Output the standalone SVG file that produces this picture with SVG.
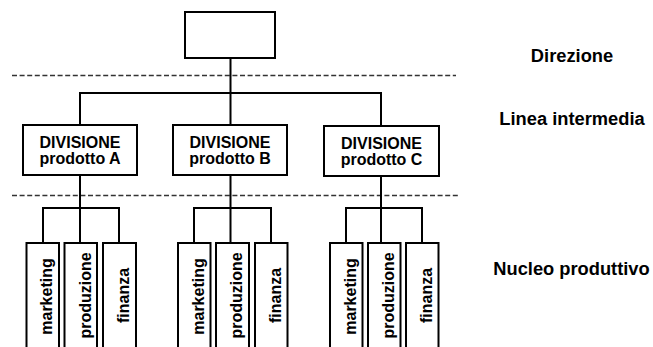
<svg xmlns="http://www.w3.org/2000/svg" width="653" height="347" viewBox="0 0 653 347">
  <style>
    .box { fill: #fff; stroke: #000; stroke-width: 2; }
    .link { fill: none; stroke: #000; stroke-width: 2; }
    .sep { fill: none; stroke: #333; stroke-width: 1.3; stroke-dasharray: 5 2.6; }
    .lbl { font-family: "Liberation Sans", Arial, sans-serif; font-weight: bold; font-size: 16px; fill: #000; text-anchor: middle; }
    .lvl { font-family: "Liberation Sans", Arial, sans-serif; font-weight: bold; font-size: 18.3px; fill: #000; text-anchor: middle; }
  </style>
  <rect width="653" height="347" fill="#fff"/>

  <!-- level separators -->
  <g id="separators">
    <line class="sep" x1="12" y1="75.5" x2="456" y2="75.5"/>
    <line class="sep" x1="12" y1="195.5" x2="460" y2="195.5"/>
  </g>

  <!-- connectors -->
  <g id="connectors">
    <path class="link" d="M230.5 58 V125 M80 125 V93 H381 V126"/>
    <path class="link" d="M80 175 V243 M43 243 V208 H119 V243"/>
    <path class="link" d="M230.5 175 V243 M194 243 V208 H271 V243"/>
    <path class="link" d="M381 176 V243 M346 243 V208 H422 V243"/>
  </g>

  <!-- top management -->
  <g id="direzione-box">
    <rect class="box" x="185" y="12" width="90" height="46"/>
  </g>

  <!-- divisions -->
  <g id="div-a">
    <rect class="box" x="23" y="125" width="114" height="50"/>
    <text class="lbl" x="80" y="148">DIVISIONE</text>
    <text class="lbl" x="80" y="164">prodotto A</text>
  </g>
  <g id="div-b">
    <rect class="box" x="173" y="125" width="114" height="50"/>
    <text class="lbl" x="230" y="148">DIVISIONE</text>
    <text class="lbl" x="230" y="164">prodotto B</text>
  </g>
  <g id="div-c">
    <rect class="box" x="324" y="126" width="115" height="50"/>
    <text class="lbl" x="381.5" y="149">DIVISIONE</text>
    <text class="lbl" x="381.5" y="165">prodotto C</text>
  </g>

  <!-- functional units, division A -->
  <g id="a-marketing">
    <rect class="box" x="26.5" y="243" width="32.5" height="120"/>
    <text class="lbl" transform="translate(52 296.5) rotate(-90)">marketing</text>
  </g>
  <g id="a-produzione">
    <rect class="box" x="64.5" y="243" width="32.5" height="120"/>
    <text class="lbl" transform="translate(90.5 295.5) rotate(-90)">produzione</text>
  </g>
  <g id="a-finanza">
    <rect class="box" x="103" y="243" width="33" height="120"/>
    <text class="lbl" transform="translate(128.5 295.5) rotate(-90)">finanza</text>
  </g>

  <!-- functional units, division B -->
  <g id="b-marketing">
    <rect class="box" x="178" y="243" width="32.5" height="120"/>
    <text class="lbl" transform="translate(203.5 296.5) rotate(-90)">marketing</text>
  </g>
  <g id="b-produzione">
    <rect class="box" x="216" y="243" width="33" height="120"/>
    <text class="lbl" transform="translate(242 295.5) rotate(-90)">produzione</text>
  </g>
  <g id="b-finanza">
    <rect class="box" x="255" y="243" width="32.5" height="120"/>
    <text class="lbl" transform="translate(280.5 295.5) rotate(-90)">finanza</text>
  </g>

  <!-- functional units, division C -->
  <g id="c-marketing">
    <rect class="box" x="330" y="243" width="32.5" height="120"/>
    <text class="lbl" transform="translate(355.5 296.5) rotate(-90)">marketing</text>
  </g>
  <g id="c-produzione">
    <rect class="box" x="368" y="243" width="32.5" height="120"/>
    <text class="lbl" transform="translate(393.5 295.5) rotate(-90)">produzione</text>
  </g>
  <g id="c-finanza">
    <rect class="box" x="406" y="243" width="32.5" height="120"/>
    <text class="lbl" transform="translate(431.5 295.5) rotate(-90)">finanza</text>
  </g>

  <!-- level names -->
  <g id="levels">
    <text class="lvl" x="572" y="61.5">Direzione</text>
    <text class="lvl" x="572" y="125">Linea intermedia</text>
    <text class="lvl" x="571.5" y="275">Nucleo produttivo</text>
  </g>
</svg>
